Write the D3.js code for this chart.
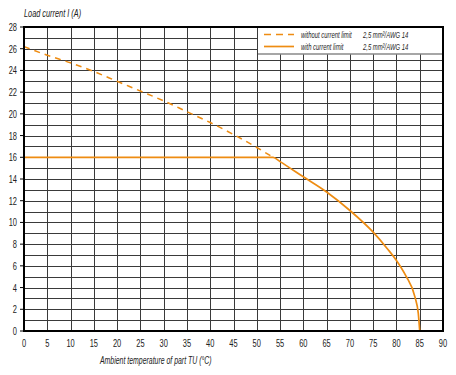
<!DOCTYPE html>
<html>
<head>
<meta charset="utf-8">
<script src="https://cdn.jsdelivr.net/npm/d3@7"></script>
<style>
  body { margin: 0; background: #fff; }
  svg { display: block; }
  text { font-family: "Liberation Sans", Arial, sans-serif; fill: #222; }
</style>
</head>
<body>
<div id="chart"></div>
<script>
// axis ticks
const xTicks = d3.range(0, 91, 5);
const yTicks = d3.range(0, 29, 2);

// without current limit (dashed)
const noLimitTemp = [0, 5, 10, 15, 20, 25, 30, 35, 40, 45, 50, 53.5];
const noLimitCurrent = [26.2, 25.4, 24.7, 23.9, 23.0, 22.1, 21.2, 20.2, 19.2, 18.1, 16.9, 16.0];

// with current limit (solid)
const limitTemp = [0, 53.5, 55, 60, 65, 70, 75, 78, 80, 82, 84, 84.7, 85];
const limitCurrent = [16, 16, 15.6, 14.2, 12.8, 11.1, 9.1, 7.6, 6.5, 5.1, 3.1, 1.6, 0];

const legendLabels = ['without current limit', 'with current limit'];
const legendSection = '2,5 mm\u00b2/AWG 14';

const W = 456, H = 375;
const margin = { top: 27, right: 13, bottom: 44, left: 24 };
const width = W - margin.left - margin.right;
const height = H - margin.top - margin.bottom;
const orange = '#ee8c12';

const svg = d3.select('#chart').append('svg')
  .attr('width', W).attr('height', H);
const g = svg.append('g').attr('transform', `translate(${margin.left},${margin.top})`);

const x = d3.scaleLinear().domain([0, 90]).range([0, width]);
const y = d3.scaleLinear().domain([0, 28]).range([height, 0]);

// condensed text: the original uses a narrow font, squeeze horizontally
function label(sel, tx, ty, str, opts) {
  const o = Object.assign({ size: 11, sx: 0.65, anchor: 'start', italic: false }, opts);
  return sel.append('text')
    .attr('transform', `translate(${tx},${ty}) scale(${o.sx},1)`)
    .attr('text-anchor', o.anchor)
    .style('font-size', o.size + 'px')
    .style('font-style', o.italic ? 'italic' : 'normal')
    .text(str);
}

// grid
g.append('g').selectAll('line')
  .data(d3.range(1, 28))
  .enter().append('line')
  .attr('x1', 0).attr('x2', width)
  .attr('y1', d => Math.round(y(d)) + 0.5).attr('y2', d => Math.round(y(d)) + 0.5)
  .attr('stroke', '#3a3a3a').attr('stroke-width', 1);

g.append('g').selectAll('line')
  .data(xTicks.slice(1, -1))
  .enter().append('line')
  .attr('x1', d => Math.round(x(d)) + 0.5).attr('x2', d => Math.round(x(d)) + 0.5)
  .attr('y1', 0).attr('y2', height)
  .attr('stroke', '#3a3a3a').attr('stroke-width', 1);

// lines
const line = d3.line().x(d => x(d[0])).y(d => y(d[1])).curve(d3.curveMonotoneX);
g.append('path')
  .datum(d3.zip(noLimitTemp, noLimitCurrent))
  .attr('d', line)
  .attr('fill', 'none').attr('stroke', orange).attr('stroke-width', 1.5)
  .attr('stroke-dasharray', '6 5');

g.append('path')
  .datum(d3.zip(limitTemp, limitCurrent))
  .attr('d', line)
  .attr('fill', 'none').attr('stroke', orange).attr('stroke-width', 1.7);

// legend box
const lx = Math.round(x(50)) + 1;
const legend = g.append('g');
legend.append('rect')
  .attr('x', lx).attr('y', 0).attr('width', width - lx).attr('height', 27)
  .attr('fill', '#fff');
legend.append('line')
  .attr('x1', lx).attr('x2', width).attr('y1', 27).attr('y2', 27)
  .attr('stroke', '#888').attr('stroke-width', 1.5);
legend.append('line')
  .attr('x1', lx - 0.5).attr('x2', lx - 0.5).attr('y1', 0).attr('y2', 27)
  .attr('stroke', '#3a3a3a');
legendLabels.forEach((lab, i) => {
  const yy = 7.5 + i * 12;
  legend.append('line')
    .attr('x1', lx + 6).attr('x2', lx + 36).attr('y1', yy).attr('y2', yy)
    .attr('stroke', orange).attr('stroke-width', 1.7)
    .attr('stroke-dasharray', i === 0 ? '7 5' : null);
  label(legend, lx + 43, yy + 3, lab, { size: 9.5, sx: 0.62, italic: true });
  label(legend, lx + 105, yy + 3, legendSection, { size: 9.5, sx: 0.62, italic: true });
});

// frame
g.append('rect')
  .attr('x', 0).attr('y', 0).attr('width', width).attr('height', height)
  .attr('fill', 'none').attr('stroke', '#000').attr('stroke-width', 2);

// y ticks
g.append('g').selectAll('line')
  .data(yTicks)
  .enter().append('line')
  .attr('x1', -4).attr('x2', 0)
  .attr('y1', d => y(d)).attr('y2', d => y(d))
  .attr('stroke', '#000');

// tick labels
const yl = g.append('g');
yTicks.forEach(d => label(yl, -7, y(d) + 4, d, { anchor: 'end', size: 11.5 }));
const xl = g.append('g');
xTicks.forEach(d => label(xl, x(d), height + 16, d, { anchor: 'middle', size: 11.5 }));

// axis titles
label(svg, 24, 17, 'Load current I (A)', { size: 10.5, sx: 0.7, italic: true });
label(svg, 100, 364, 'Ambient temperature of part TU (\u00b0C)', { size: 10.5, sx: 0.66, italic: true });
</script>
</body>
</html>
